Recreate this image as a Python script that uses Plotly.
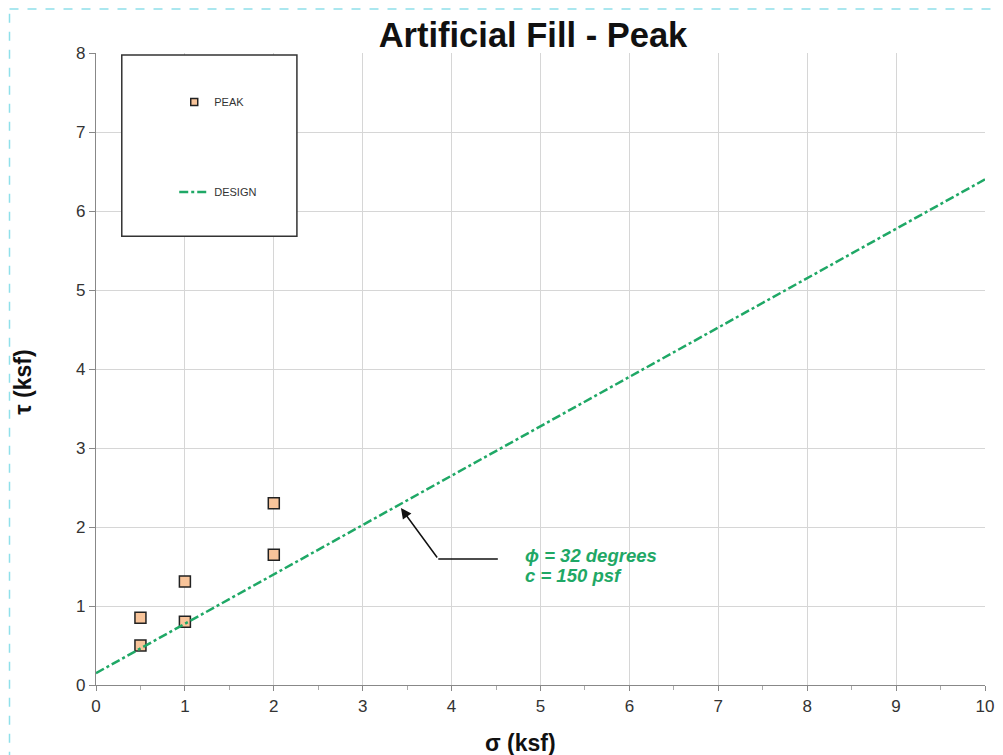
import plotly.graph_objects as go

# Data
sigma_peak = [0.5, 0.5, 1.0, 1.0, 2.0, 2.0]
tau_peak = [0.50, 0.85, 0.80, 1.31, 1.65, 2.30]
design_sigma = [0, 10]
design_tau = [0.15, 6.40]
x_ticks = list(range(0, 11))
y_ticks = list(range(0, 9))

GREEN = "#1fa866"
PEACH = "#f8c49a"
fig = go.Figure()
fig.add_trace(go.Scatter(
    x=sigma_peak, y=tau_peak, mode="markers", name="PEAK", showlegend=False,
    marker=dict(symbol="square", size=11, color=PEACH,
                line=dict(color="#222222", width=1.5)),
))
# legend-only entry with a smaller symbol, as in the original
fig.add_trace(go.Scatter(
    x=[None], y=[None], mode="markers", name="PEAK", legendgroup="a",
    marker=dict(symbol="square", size=7, color=PEACH,
                line=dict(color="#222222", width=1.5)),
))
fig.add_trace(go.Scatter(
    x=design_sigma, y=design_tau, mode="lines", name="DESIGN", legendgroup="b",
    line=dict(color=GREEN, width=2.5, dash="dashdot"),
))

fig.update_layout(
    width=1003, height=755,
    margin=dict(l=88, r=26, t=45, b=78),
    paper_bgcolor="white", plot_bgcolor="white",
    font=dict(family="Liberation Sans, Arial, sans-serif", color="#333333"),
    title=dict(text="<b>Artificial Fill - Peak</b>", x=0.5234, xanchor="center",
               y=0.9642, yanchor="middle", font=dict(size=34.5, color="#111111")),
    showlegend=True,
    legend=dict(x=0.088, y=0.9455, xanchor="left", yanchor="top",
                bgcolor="rgba(0,0,0,0)", borderwidth=0,
                font=dict(size=11, color="#333333"), tracegroupgap=71),
)
fig.update_xaxes(
    range=[0, 10], tickvals=x_ticks, showgrid=True, gridcolor="#d6d6d6", gridwidth=1,
    showline=True, linecolor="#888888", linewidth=1.2, ticks="outside", ticklen=5,
    tickcolor="#888888", minor=dict(dtick=0.5, ticks="outside", ticklen=4, tickcolor="#aaaaaa", showgrid=False),
    tickfont=dict(size=17, color="#333333"), zeroline=False,
)
fig.update_yaxes(
    range=[0, 8], tickvals=y_ticks, showgrid=True, gridcolor="#d6d6d6", gridwidth=1,
    showline=True, linecolor="#888888", linewidth=1.2, ticks="outside", ticklen=6,
    tickcolor="#888888", tickfont=dict(size=17, color="#333333"), zeroline=False,
)

# axis titles
fig.add_annotation(x=0.477, y=-0.092, xref="paper", yref="paper", text="<b>σ (ksf)</b>",
                   showarrow=False, xanchor="center", yanchor="middle",
                   font=dict(size=23, color="#111111"))
fig.add_annotation(x=-0.0817, y=0.479, xref="paper", yref="paper", text="<b>τ (ksf)</b>",
                   showarrow=False, xanchor="center", yanchor="middle", textangle=-90,
                   font=dict(size=23, color="#111111"))

# legend box
fig.add_shape(type="rect", xref="paper", yref="paper", x0=0.029, x1=0.226, y0=0.71, y1=0.997,
              fillcolor="white", line=dict(color="#333333", width=1.5), layer="above")

# arrow annotation
fig.add_shape(type="line", xref="x", yref="y", x0=3.85, y0=1.595, x1=4.52, y1=1.595,
              line=dict(color="#111111", width=1.5))
fig.add_annotation(x=3.43, y=2.24, ax=3.85, ay=1.595, axref="x", ayref="y", xref="x", yref="y",
                   text="", showarrow=True, arrowhead=2, arrowsize=1.4, arrowwidth=1.5,
                   arrowcolor="#111111")
fig.add_annotation(x=4.80, y=1.635, xref="x", yref="y", xanchor="left", yanchor="middle",
                   text="<b><i>ϕ = 32 degrees</i></b>", showarrow=False,
                   font=dict(size=18.5, color=GREEN))
fig.add_annotation(x=4.80, y=1.39, xref="x", yref="y", xanchor="left", yanchor="middle",
                   text="<b><i>c = 150 psf</i></b>", showarrow=False,
                   font=dict(size=18.5, color=GREEN))

# page border (dashed cyan)
fig.add_shape(type="line", xref="paper", yref="paper", x0=-0.0973, x1=1.03, y0=1.0696, y1=1.0696,
              line=dict(color="#8fe0ea", width=1.5, dash="dash"))
fig.add_shape(type="line", xref="paper", yref="paper", x0=-0.0973, x1=-0.0973, y0=-0.12, y1=1.0696,
              line=dict(color="#8fe0ea", width=1.5, dash="dash"))

fig.write_html("out.html")
